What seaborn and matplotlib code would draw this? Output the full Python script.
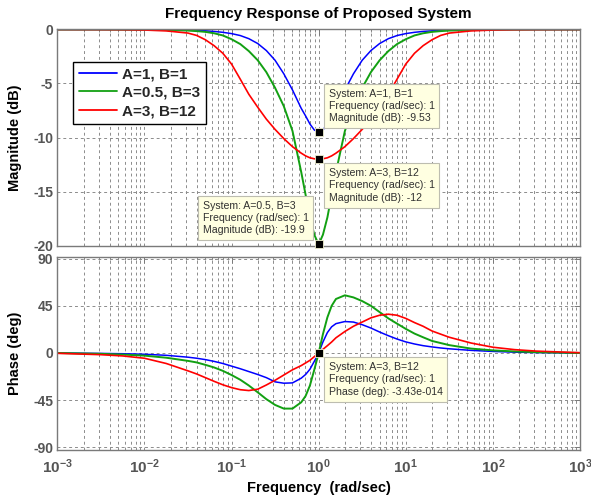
import math
import matplotlib
matplotlib.use("Agg")
import matplotlib.pyplot as plt
from matplotlib.lines import Line2D
from matplotlib.ticker import FixedLocator, LogLocator, FuncFormatter, NullFormatter
import pandas as pd
import seaborn as sns

# Notch systems compared in the Bode plot
SYSTEMS = ["A=1, B=1", "A=0.5, B=3", "A=3, B=12"]
COLORS = ["#0000ff", "#12a012", "#ff0000"]
WIDTHS = [1.1, 1.4, 1.2]

# Frequency samples (rad/sec)
FREQ = [0.001, 0.00316, 0.00562, 0.01, 0.0178, 0.0316, 0.0398, 0.0501, 0.0631,
        0.0794, 0.1, 0.126, 0.158, 0.2, 0.251, 0.316, 0.398, 0.501, 0.631,
        0.708, 0.794, 0.891, 1.0, 1.12, 1.26, 1.41, 1.58, 2.0, 2.51, 3.16,
        3.98, 5.01, 6.31, 7.94, 10.0, 12.6, 15.8, 20.0, 25.1, 31.6, 56.2,
        100.0, 178.0, 316.0, 1000.0]

# Magnitude (dB)
MAG_A1_B1 = [0, 0, 0, -0.01, -0.02, -0.05, -0.08, -0.12, -0.18, -0.26, -0.38,
             -0.56, -0.85, -1.3, -1.95, -2.85, -4.1, -5.6, -7.3, -8.0, -8.75,
             -9.3, -9.53, -9.3, -8.75, -8.0, -7.3, -5.6, -4.1, -2.85, -1.95,
             -1.3, -0.85, -0.56, -0.38, -0.26, -0.18, -0.12, -0.08, -0.05,
             -0.02, -0.01, 0, 0, 0]
MAG_A05_B3 = [0, 0, -0.01, -0.02, -0.05, -0.1, -0.15, -0.22, -0.35, -0.55, -0.9,
              -1.35, -2.0, -2.85, -3.95, -5.4, -7.1, -9.4, -13.2, -15.3, -17.4,
              -19.0, -19.9, -19.0, -17.4, -15.3, -13.2, -9.4, -7.1, -5.4, -3.95,
              -2.85, -2.0, -1.35, -0.9, -0.55, -0.35, -0.22, -0.15, -0.1,
              -0.05, -0.02, -0.01, 0, 0]
MAG_A3_B12 = [0, -0.01, -0.02, -0.05, -0.13, -0.33, -0.55, -0.95, -1.5, -2.2,
              -3.2, -4.6, -6.0, -7.2, -8.3, -9.25, -10.1, -10.85, -11.45, -11.7,
              -11.88, -11.97, -12.0, -11.97, -11.88, -11.7, -11.45, -10.85,
              -10.1, -9.25, -8.3, -7.2, -6.0, -4.6, -3.2, -2.2, -1.5, -0.95,
              -0.55, -0.33, -0.13, -0.05, -0.02, -0.01, 0]

# Phase (deg)
PH_A1_B1 = [0, -0.4, -0.7, -1.2, -2.2, -4.0, -5.0, -6.3, -8.0, -10.0, -12.5,
            -15.0, -17.7, -20.5, -23.5, -27.5, -28.8, -28.5, -24.0, -20.5,
            -15.5, -8.0, 0, 10.5, 19.5, 25.0, 28.0, 30.0, 29.5, 27.0, 23.8,
            20.0, 16.5, 13.3, 10.6, 8.6, 7.0, 5.8, 4.8, 4.0, 2.5, 1.5, 0.8,
            0.4, 0]
PH_A05_B3 = [0, -0.8, -1.5, -2.5, -4.5, -7.5, -9.0, -11.3, -13.8, -17.0, -21.0,
             -25.5, -31.0, -37.5, -44.0, -49.5, -53.0, -53.0, -47.0, -41.0,
             -31.0, -16.0, 0, 18.0, 34.0, 45.0, 51.5, 55.0, 53.0, 49.5, 45.0,
             39.0, 33.0, 28.0, 23.0, 18.5, 15.0, 11.5, 9.5, 7.5, 4.2, 2.5, 1.5,
             0.8, 0]
PH_A3_B12 = [-0.3, -1.6, -2.8, -5.0, -10.0, -17.0, -20.0, -23.5, -27.0, -30.3,
             -33.0, -35.0, -35.8, -34.5, -30.5, -26.0, -21.0, -16.0, -12.0,
             -9.5, -7.0, -3.5, 0, 3.5, 7.0, 10.5, 14.5, 20.5, 25.5, 29.5, 33.5,
             36.0, 37.0, 36.0, 33.0, 29.0, 25.5, 21.0, 18.0, 15.0, 9.5, 5.5,
             3.2, 1.8, 0.3]

MAGS = [MAG_A1_B1, MAG_A05_B3, MAG_A3_B12]
PHASES = [PH_A1_B1, PH_A05_B3, PH_A3_B12]

# Data tips shown at w = 1 rad/sec
TIP_SYSTEMS = ["A=1, B=1", "A=3, B=12", "A=0.5, B=3"]
TIP_MAGS = [-9.53, -12.0, -19.9]
TIP_MAG_TEXT = ["-9.53", "-12", "-19.9"]
TIP_PHASE_SYSTEM = "A=3, B=12"
TIP_PHASE = -3.43e-14
TIP_PHASE_TEXT = "-3.43e-014"

MAG_TICKS = [0, -5, -10, -15, -20]
PHASE_TICKS = [90, 45, 0, -45, -90]

frames = []
for name, mag, ph in zip(SYSTEMS, MAGS, PHASES):
    frames.append(pd.DataFrame({"freq": FREQ, "mag": mag, "phase": ph, "system": name}))
df = pd.concat(frames, ignore_index=True)

sns.set_theme(style="white")
plt.rcParams["font.family"] = ["Liberation Sans", "DejaVu Sans"]
plt.rcParams["mathtext.fontset"] = "custom"
plt.rcParams["mathtext.rm"] = "Liberation Sans"
plt.rcParams["mathtext.bf"] = "Liberation Sans:bold"
plt.rcParams["axes.unicode_minus"] = False

W, H = 591, 500
fig = plt.figure(figsize=(W / 100, H / 100), dpi=100)
fig.patch.set_facecolor("white")

x0, x1 = 57.3, 580.0
ax_m = fig.add_axes([x0 / W, (H - 245.5) / H, (x1 - x0) / W, 216 / H])
ax_p = fig.add_axes([x0 / W, (H - 449.5) / H, (x1 - x0) / W, 193 / H])

GRAY = "#7a7a7a"
TICK_GRAY = "#555555"

for name, color, lw in zip(SYSTEMS, COLORS, WIDTHS):
    sub = df[df["system"] == name]
    sns.lineplot(data=sub, x="freq", y="mag", color=color, linewidth=lw,
                 estimator=None, sort=False, ax=ax_m, legend=False)
    sns.lineplot(data=sub, x="freq", y="phase", color=color, linewidth=lw,
                 estimator=None, sort=False, ax=ax_p, legend=False)


def dec_label(v, pos):
    exp = int(round(math.log10(v)))
    return r"$\mathbf{10^{%d}}$" % exp


for ax in (ax_m, ax_p):
    ax.set_xscale("log")
    ax.set_xlim(1e-3, 1e3)
    ax.set_xlabel("")
    ax.set_ylabel("")
    ax.xaxis.set_major_locator(FixedLocator([1e-3, 1e-2, 1e-1, 1e0, 1e1, 1e2, 1e3]))
    ax.xaxis.set_minor_locator(LogLocator(base=10, subs=range(2, 10), numticks=20))
    ax.xaxis.set_minor_formatter(NullFormatter())
    ax.grid(True, which="both", axis="x", color="#8c8c8c", linestyle=(0, (3, 3)),
            linewidth=0.7)
    ax.grid(True, which="major", axis="y", color="#8c8c8c", linestyle=(0, (3, 3)),
            linewidth=0.7)
    ax.tick_params(which="both", direction="in", top=True, right=True,
                   color=GRAY, labelcolor=TICK_GRAY, labelsize=10)
    ax.tick_params(which="major", length=4, width=0.7)
    ax.tick_params(which="minor", length=2.5, width=0.6)
    ax.tick_params(axis="y", pad=3)
    for sp in ax.spines.values():
        sp.set_color(GRAY)
        sp.set_linewidth(1.0)
    ax.set_axisbelow(True)

ax_m.set_ylim(-20, 0)
ax_m.yaxis.set_major_locator(FixedLocator(MAG_TICKS))
ax_m.xaxis.set_major_formatter(NullFormatter())
ax_p.set_ylim(-92, 92)
ax_p.yaxis.set_major_locator(FixedLocator(PHASE_TICKS))
ax_p.xaxis.set_major_formatter(FuncFormatter(dec_label))
ax_p.tick_params(axis="x", pad=6, labelsize=11)
for ax in (ax_m, ax_p):
    ax.yaxis.set_major_formatter(FuncFormatter(lambda v, p: "%d" % v))
    for lab in ax.get_yticklabels():
        lab.set_fontweight("bold")

# Legend
handles = [Line2D([0], [0], color=c, lw=1.3) for c in COLORS]
leg = ax_m.legend(handles, SYSTEMS, loc="upper left", bbox_to_anchor=(0.0306, 0.851),
                  borderaxespad=0, frameon=True, fancybox=False, framealpha=1,
                  edgecolor="black", prop={"weight": "bold", "size": 11},
                  handlelength=2.5, handletextpad=0.35, borderpad=0.35,
                  labelspacing=0.3)
leg.get_frame().set_linewidth(1.0)

# Data tips
tip_box = dict(boxstyle="square,pad=0.45", fc="#ffffe1", ec="#bdbdb0", lw=0.8)
tip_kw = dict(fontsize=7.6, color="#303030", linespacing=1.3, bbox=tip_box,
              textcoords="offset pixels", zorder=6, multialignment="left")

for val in TIP_MAGS:
    ax_m.plot([1.0], [val], marker="s", color="black", markersize=5.6,
              markeredgecolor="#f0f0d0", markeredgewidth=0.6, clip_on=False, zorder=7)

tip_offsets = [((10, 9), "left", "bottom"), ((10, -9), "left", "top"),
               ((-10, 9), "right", "bottom")]
for sysname, val, txt, (off, ha, va) in zip(TIP_SYSTEMS, TIP_MAGS, TIP_MAG_TEXT, tip_offsets):
    label = "System: %s\nFrequency (rad/sec): 1\nMagnitude (dB): %s" % (sysname, txt)
    ax_m.annotate(label, xy=(1.0, val), xytext=off, ha=ha, va=va, **tip_kw)

ax_p.plot([1.0], [TIP_PHASE], marker="s", color="black", markersize=5.6,
          markeredgecolor="#f0f0d0", markeredgewidth=0.6, clip_on=False, zorder=7)
text_d = "System: %s\nFrequency (rad/sec): 1\nPhase (deg): %s" % (TIP_PHASE_SYSTEM, TIP_PHASE_TEXT)
ax_p.annotate(text_d, xy=(1.0, TIP_PHASE), xytext=(10, -9), ha="left", va="top", **tip_kw)

# Titles and axis labels
cx = (x0 + x1) / 2 / W
fig.text(cx, 1 - 14 / H, "Frequency Response of Proposed System", ha="center",
         va="center", fontsize=11, fontweight="bold", color="black")
fig.text(15 / W, 1 - 137.5 / H, "Magnitude (dB)", rotation=90, ha="center",
         va="center", fontsize=10.5, fontweight="bold", color="black")
fig.text(15 / W, 1 - 353 / H, "Phase (deg)", rotation=90, ha="center",
         va="center", fontsize=10.5, fontweight="bold", color="black")
fig.text(cx, 1 - 488 / H, "Frequency  (rad/sec)", ha="center", va="center",
         fontsize=10.5, fontweight="bold", color="black")

fig.savefig("out.png", dpi=100, facecolor="white")
